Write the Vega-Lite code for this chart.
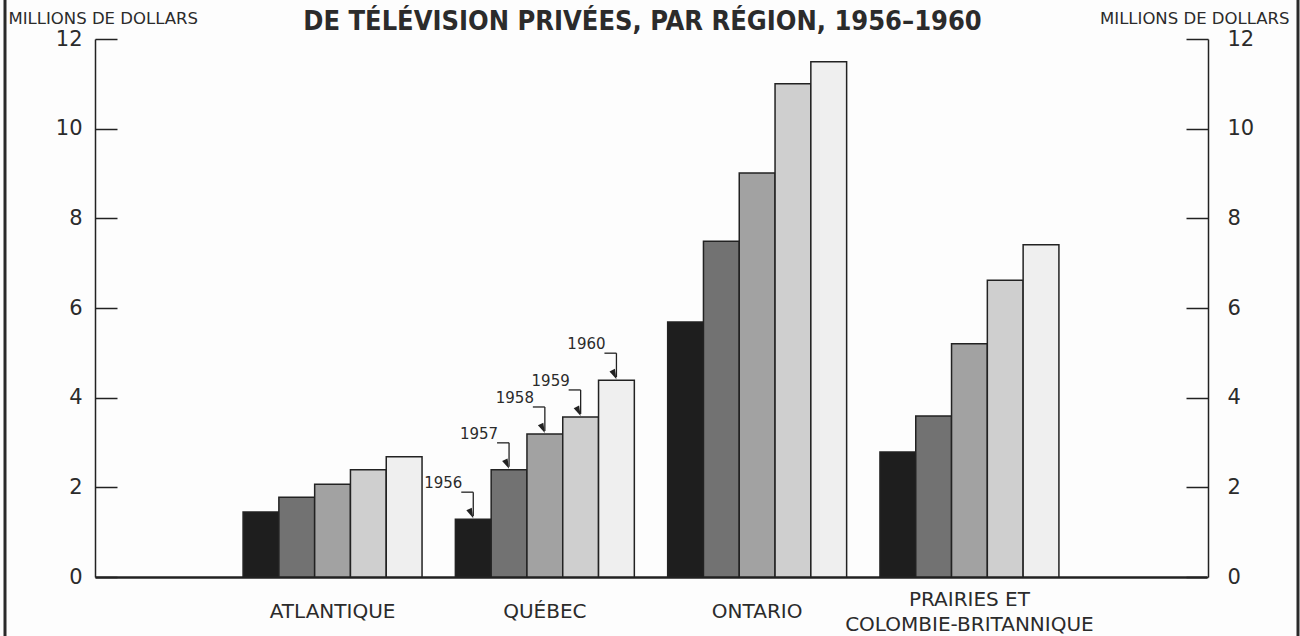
{
  "$schema": "https://vega.github.io/schema/vega-lite/v6.json",
  "width": 1293,
  "height": 636,
  "autosize": {"type": "none"},
  "padding": {"left": 5, "top": 0, "right": 2, "bottom": 0},
  "background": "#fdfdfd",
  "title": {
    "text": "DE TÉLÉVISION PRIVÉES, PAR RÉGION, 1956–1960",
    "font": "DejaVu Sans Condensed, DejaVu Sans",
    "fontSize": 27,
    "fontWeight": "bold",
    "color": "#2b2b2b",
    "anchor": "middle",
    "frame": "group",
    "baseline": "alphabetic",
    "offset": 0,
    "dy": 57,
    "dx": -9
  },
  "config": {
    "font": "DejaVu Sans",
    "view": {"stroke": "#2a2a2a", "strokeWidth": 3, "strokeDash": [0, 1293, 636, 1293, 636]},
    "axis": {"labelColor": "#2b2b2b", "titleColor": "#2b2b2b", "domainColor": "#222", "tickColor": "#222", "grid": false}
  },
  "data": {
    "values": [
      {"region": "ATLANTIQUE", "year": "1956", "value": 1.45},
      {"region": "ATLANTIQUE", "year": "1957", "value": 1.78},
      {"region": "ATLANTIQUE", "year": "1958", "value": 2.07},
      {"region": "ATLANTIQUE", "year": "1959", "value": 2.39},
      {"region": "ATLANTIQUE", "year": "1960", "value": 2.68},
      {"region": "QUÉBEC", "year": "1956", "value": 1.29},
      {"region": "QUÉBEC", "year": "1957", "value": 2.39},
      {"region": "QUÉBEC", "year": "1958", "value": 3.19},
      {"region": "QUÉBEC", "year": "1959", "value": 3.57},
      {"region": "QUÉBEC", "year": "1960", "value": 4.39},
      {"region": "ONTARIO", "year": "1956", "value": 5.69},
      {"region": "ONTARIO", "year": "1957", "value": 7.49},
      {"region": "ONTARIO", "year": "1958", "value": 9.01},
      {"region": "ONTARIO", "year": "1959", "value": 11.0},
      {"region": "ONTARIO", "year": "1960", "value": 11.49},
      {"region": "PRAIRIES ET COLOMBIE-BRITANNIQUE", "year": "1956", "value": 2.79},
      {"region": "PRAIRIES ET COLOMBIE-BRITANNIQUE", "year": "1957", "value": 3.59},
      {"region": "PRAIRIES ET COLOMBIE-BRITANNIQUE", "year": "1958", "value": 5.2},
      {"region": "PRAIRIES ET COLOMBIE-BRITANNIQUE", "year": "1959", "value": 6.62},
      {"region": "PRAIRIES ET COLOMBIE-BRITANNIQUE", "year": "1960", "value": 7.41}
    ]
  },
  "resolve": {"scale": {"y": "independent"}},
  "layer": [
    {
      "mark": {"type": "bar", "stroke": "#222", "strokeWidth": 1.5},
      "encoding": {
        "x": {
          "field": "region", "type": "nominal",
          "sort": ["ATLANTIQUE", "QUÉBEC", "ONTARIO", "PRAIRIES ET COLOMBIE-BRITANNIQUE"],
          "scale": {"range": [90, 1202], "paddingInner": 0.157, "paddingOuter": 0.6975},
          "axis": {
            "title": null, "orient": "bottom", "offset": -59, "ticks": false, "tickSize": 0,
            "domainWidth": 2.5, "labelAngle": 0, "labelFontSize": 20, "labelLimit": 400,
            "labelBaseline": "middle", "labelLineHeight": 25,
            "labelPadding": {"condition": {"test": "datum.value == 'PRAIRIES ET COLOMBIE-BRITANNIQUE'", "value": 22}, "value": 34},
            "labelExpr": "datum.value == 'PRAIRIES ET COLOMBIE-BRITANNIQUE' ? ['PRAIRIES ET', 'COLOMBIE-BRITANNIQUE'] : datum.label"
          }
        },
        "xOffset": {"field": "year", "type": "nominal", "scale": {"paddingInner": 0}},
        "y": {
          "field": "value", "type": "quantitative",
          "scale": {"domain": [0, 12], "nice": false, "range": [577, 39]},
          "axis": {
            "orient": "left", "offset": -90, "values": [0, 2, 4, 6, 8, 10, 12],
            "tickSize": -22, "tickWidth": 1.5, "domainWidth": 1.5,
            "labelFontSize": 21, "labelPadding": 35,
            "title": "MILLIONS DE DOLLARS", "titleAngle": 0, "titleAlign": "left",
            "titleBaseline": "alphabetic", "titleX": -87, "titleY": 23,
            "titleFontSize": 16.5, "titleFontWeight": "normal"
          }
        },
        "fill": {
          "field": "year", "type": "nominal",
          "scale": {"domain": ["1956", "1957", "1958", "1959", "1960"], "range": ["#1e1e1e", "#727272", "#a2a2a2", "#cfcfcf", "#efefef"]},
          "legend": null
        }
      }
    },
    {
      "transform": [{"filter": "datum.region == 'QUÉBEC'"}],
      "mark": {"type": "text", "dx": -30, "dy": -31, "baseline": "alphabetic", "align": "center", "fontSize": 15, "color": "#2b2b2b"},
      "encoding": {
        "x": {"field": "region", "type": "nominal", "sort": ["ATLANTIQUE", "QUÉBEC", "ONTARIO", "PRAIRIES ET COLOMBIE-BRITANNIQUE"]},
        "xOffset": {"field": "year", "type": "nominal"},
        "y": {
          "field": "value", "type": "quantitative",
          "scale": {"domain": [0, 12], "nice": false, "range": [577, 39]},
          "axis": {
            "orient": "right", "offset": -90, "values": [0, 2, 4, 6, 8, 10, 12],
            "tickSize": -22, "tickWidth": 1.5, "domainWidth": 1.5,
            "labelFontSize": 21, "labelPadding": 41,
            "title": "MILLIONS DE DOLLARS", "titleAngle": 0, "titleAlign": "right",
            "titleBaseline": "alphabetic", "titleX": 81, "titleY": 23,
            "titleFontSize": 16.5, "titleFontWeight": "normal"
          }
        },
        "text": {"field": "year"}
      }
    },
    {
      "transform": [{"filter": "datum.region == 'QUÉBEC'"}],
      "mark": {
        "type": "rule", "stroke": "#222", "strokeWidth": 1.3,
        "xOffset": -12, "yOffset": -27, "y2Offset": -3,
        "x2Offset": {"expr": "(indexof(['1956','1957','1958','1959','1960'], datum.year) - 2) * bandwidth('xOffset')"}
      },
      "encoding": {
        "x": {"field": "region", "type": "nominal", "sort": ["ATLANTIQUE", "QUÉBEC", "ONTARIO", "PRAIRIES ET COLOMBIE-BRITANNIQUE"]},
        "x2": {"field": "region"},
        "xOffset": {"field": "year", "type": "nominal"},
        "y": {"field": "value", "type": "quantitative", "scale": {"domain": [0, 12], "nice": false, "range": [577, 39]}, "axis": null},
        "y2": {"field": "value"}
      }
    },
    {
      "transform": [{"filter": "datum.region == 'QUÉBEC'"}],
      "mark": {
        "type": "rule", "stroke": "#222", "strokeWidth": 1.3,
        "xOffset": -47, "yOffset": -27, "y2Offset": -27,
        "x2Offset": {"expr": "(indexof(['1956','1957','1958','1959','1960'], datum.year) - 2) * bandwidth('xOffset') - 12"}
      },
      "encoding": {
        "x": {"field": "region", "type": "nominal", "sort": ["ATLANTIQUE", "QUÉBEC", "ONTARIO", "PRAIRIES ET COLOMBIE-BRITANNIQUE"]},
        "x2": {"field": "region"},
        "xOffset": {"field": "year", "type": "nominal"},
        "y": {"field": "value", "type": "quantitative", "scale": {"domain": [0, 12], "nice": false, "range": [577, 39]}, "axis": null},
        "y2": {"field": "value"}
      }
    },
    {
      "transform": [{"filter": "datum.region == 'QUÉBEC'"}],
      "mark": {"type": "point", "shape": "M -0.3 -1 L 0.3 -1 L 0 0 Z", "size": 400, "filled": true, "color": "#222", "opacity": 1, "angle": -25, "yOffset": -1},
      "encoding": {
        "x": {"field": "region", "type": "nominal", "sort": ["ATLANTIQUE", "QUÉBEC", "ONTARIO", "PRAIRIES ET COLOMBIE-BRITANNIQUE"]},
        "xOffset": {"field": "year", "type": "nominal"},
        "y": {"field": "value", "type": "quantitative", "scale": {"domain": [0, 12], "nice": false, "range": [577, 39]}, "axis": null}
      }
    }
  ]
}
